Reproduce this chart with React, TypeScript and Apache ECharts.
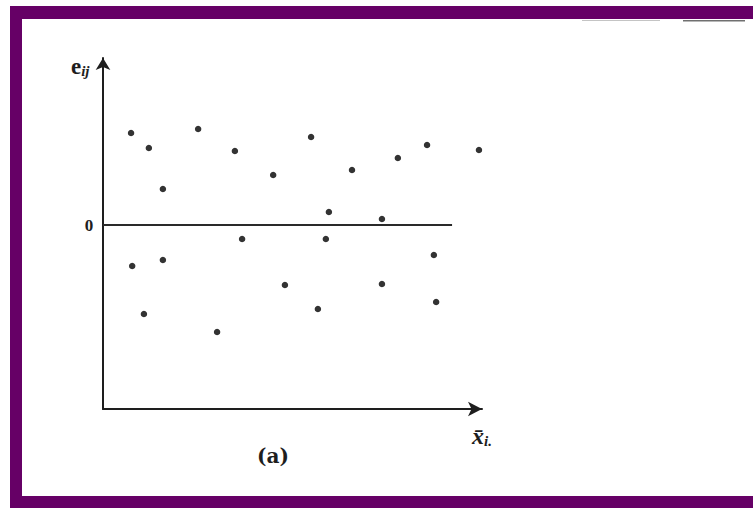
import React, { useEffect, useRef } from "react";
import * as echarts from "echarts";

// Fitted values (x̄_i.) and residuals (e_ij)
const xValues = [7.4, 12.1, 15.8, 25.1, 34.8, 44.9, 54.9, 65.7, 77.8, 85.5, 99.2, 59.6, 73.6, 7.7, 15.8, 36.7, 58.8, 87.3, 48.0, 73.6, 10.8, 56.7, 87.9, 30.1];
const residuals = [9.2, 7.7, 3.6, 9.6, 7.4, 5.0, 8.8, 5.5, 6.7, 8.0, 7.5, 1.3, 0.6, -4.1, -3.5, -1.4, -1.4, -3.0, -6.0, -5.9, -8.9, -8.4, -7.7, -10.7];
const zeroLineEnd = 92.1;
const yLabel = "e";
const yLabelSub = "ij";
const xLabel = "x̄";
const xLabelSub = "i.";
const caption = "(a)";
const zeroLabel = "0";

export default function App() {
  const ref = useRef<HTMLDivElement>(null);
  useEffect(() => {
    if (!ref.current) return;
    const chart = echarts.init(ref.current, null, { renderer: "svg" });
    const points = xValues.map((x, i) => [x, residuals[i]]);
    const purple = "#660066";
    const ink = "#1e1e1e";
    chart.setOption({
      animation: false,
      backgroundColor: "#ffffff",
      grid: { left: 103, top: 58, width: 379, height: 351, containLabel: false },
      xAxis: {
        type: "value",
        min: 0,
        max: 100,
        axisLine: { show: true, onZero: false, symbol: ["none", "arrow"], symbolSize: [11, 14], lineStyle: { color: ink, width: 2 } },
        axisTick: { show: false },
        axisLabel: { show: false },
        splitLine: { show: false },
      },
      yAxis: {
        type: "value",
        min: -18.4,
        max: 16.7,
        axisLine: { show: true, onZero: false, symbol: ["none", "arrow"], symbolSize: [11, 12], lineStyle: { color: ink, width: 2 } },
        axisTick: { show: false },
        axisLabel: { show: false },
        splitLine: { show: false },
      },
      series: [
        {
          type: "scatter",
          data: points,
          symbolSize: 6.5,
          clip: false,
          itemStyle: { color: "#000000" },
          markLine: {
            silent: true,
            symbol: ["none", "none"],
            label: { show: false },
            lineStyle: { color: "#2a2a2a", width: 2, type: "solid" },
            data: [[{ coord: [0, 0] }, { coord: [zeroLineEnd, 0] }]],
          },
        },
      ],
      graphic: [
        { type: "rect", shape: { x: 10, y: 6, width: 743, height: 13 }, style: { fill: purple } },
        { type: "rect", shape: { x: 10, y: 6, width: 12, height: 502 }, style: { fill: purple } },
        { type: "rect", shape: { x: 10, y: 496, width: 743, height: 12 }, style: { fill: purple } },
        { type: "rect", shape: { x: 582, y: 20, width: 78, height: 1 }, style: { fill: "#c4c4c4" } },
        { type: "rect", shape: { x: 683, y: 20, width: 62, height: 1.5 }, style: { fill: "#707070" } },
        {
          type: "text",
          x: 71,
          y: 55,
          style: {
            text: "{e|" + yLabel + "}{s|" + yLabelSub + "}",
            rich: {
              e: { fontFamily: "Liberation Serif", fontWeight: "bold", fontSize: 23, fill: ink },
              s: { fontFamily: "Liberation Serif", fontWeight: "bold", fontStyle: "italic", fontSize: 15, fill: ink, padding: [8, 0, 0, 0] },
            },
          },
        },
        {
          type: "text",
          x: 89,
          y: 225,
          style: { text: zeroLabel, fontFamily: "Liberation Serif", fontWeight: "bold", fontSize: 17, fill: ink, align: "center", verticalAlign: "middle" },
        },
        {
          type: "text",
          x: 273,
          y: 456,
          style: { text: caption, fontFamily: "DejaVu Serif", fontWeight: "bold", fontSize: 20, fill: ink, align: "center", verticalAlign: "middle" },
        },
        {
          type: "text",
          x: 472,
          y: 423,
          style: {
            text: "{x|" + xLabel + "}{s|" + xLabelSub + "}",
            rich: {
              x: { fontFamily: "Liberation Serif", fontWeight: "bold", fontStyle: "italic", fontSize: 24, fill: ink },
              s: { fontFamily: "Liberation Serif", fontWeight: "bold", fontStyle: "italic", fontSize: 15, fill: ink, padding: [10, 0, 0, 0] },
            },
          },
        },
      ],
    });
    return () => chart.dispose();
  }, []);
  return <div ref={ref} style={{ position: "fixed", left: 0, top: 0, width: 753, height: 508 }} />;
}
